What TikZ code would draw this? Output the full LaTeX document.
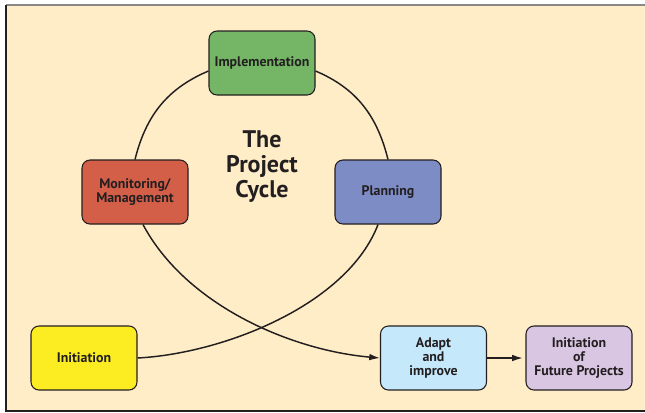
\documentclass[tikz,border=0pt]{standalone}
\usepackage{fontspec}
\setmainfont{PT Sans}
\usetikzlibrary{arrows.meta}
\definecolor{paper}{RGB}{255,237,200}
\definecolor{framegray}{RGB}{138,136,134}
\definecolor{inkgray}{RGB}{35,31,32}
\definecolor{implgreen}{RGB}{116,182,102}
\definecolor{monred}{RGB}{211,95,72}
\definecolor{planblue}{RGB}{126,140,198}
\definecolor{inityellow}{RGB}{252,236,34}
\definecolor{adaptblue}{RGB}{197,233,250}
\definecolor{futurelilac}{RGB}{217,198,226}
\tikzset{
  stage/.style={draw=inkgray, line width=0.8pt, rounded corners=6pt,
    minimum width=79.5pt, minimum height=48pt, align=center, text=inkgray,
    font=\bfseries\fontsize{10.4}{10.7}\selectfont},
  flow/.style={draw=inkgray, line width=1.1pt},
  tip/.style={-{Latex[length=8pt,width=5pt]}}
}
\begin{document}
\begin{tikzpicture}[x=0.75pt,y=-0.75pt]
	\useasboundingbox (0,0) rectangle (645,412);
	% Draw background panel
	\fill[paper] (6,5) rectangle (645,411);
	\draw[framegray, line width=1.5pt] (6,5) -- (645,5);
	\draw[inkgray, line width=1.2pt] (6,5) -- (6,411) -- (645,411);
	% Stages of the project cycle
	\node[stage, fill=implgreen] (impl) at (262,63) {Implementation};
	\node[stage, fill=monred] (mon) at (135,192) {Monitoring/\\Management};
	\node[stage, fill=planblue] (plan) at (388,192) {Planning};
	\node[stage, fill=inityellow] (init) at (84,358) {Initiation};
	\node[stage, fill=adaptblue] (adapt) at (433.5,358) {Adapt\\and\\improve};
	\node[stage, fill=futurelilac] (future) at (579,358) {Initiation\\of\\Future Projects};
	% Title in the middle of the cycle
	\node[align=center, text=inkgray, font=\bfseries\fontsize{18}{18.75}\selectfont] (title) at (262,167) {The\\Project\\Cycle};
	% Upper arcs of the cycle
	\draw[flow] ([yshift=-6pt]impl.west) to[out=203,in=76] (mon.north);
	\draw[flow] ([yshift=-6pt]impl.east) to[out=-23,in=104] (plan.north);
	% Crossing curves at the bottom
	\draw[flow] (init.east) to[out=3,in=-111,looseness=0.8] ([xshift=-7.5pt]plan.south);
	\draw[flow, tip] ([xshift=6pt]mon.south) to[out=-62,in=175,looseness=0.85] (adapt.west);
	\draw[flow, tip, shorten >=2pt] (adapt.east) -- (future.west);
\end{tikzpicture}
\end{document}
